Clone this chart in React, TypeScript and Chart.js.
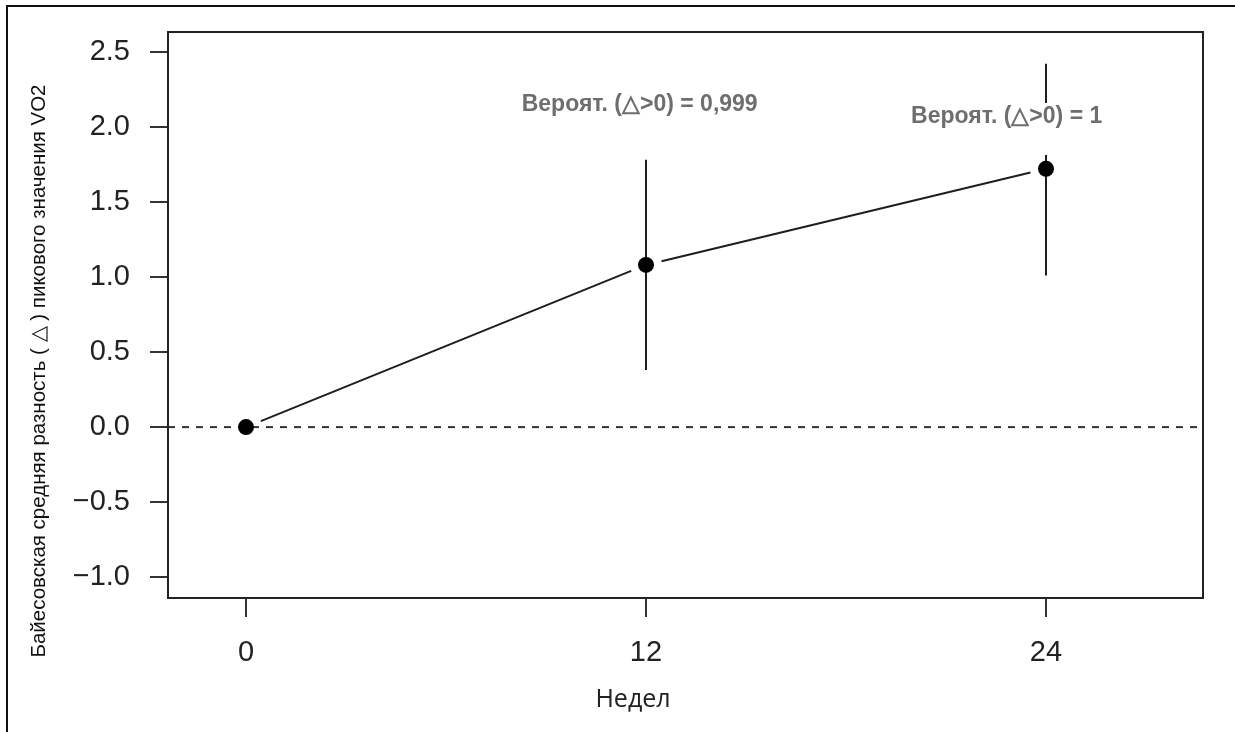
import React, { useEffect, useRef } from "react";
import { Chart, registerables } from "chart.js";

Chart.register(...registerables);

// ---- data ----
const weeks = [0, 12, 24];
const meanDiff = [0, 1.08, 1.72];
const ciLower = [0, 0.38, 1.01];
const ciUpper = [0, 1.78, 2.42];
const xTicks = [0, 12, 24];
const xTickLabels = ["0", "12", "24"];
const yTicks = [-1.0, -0.5, 0, 0.5, 1.0, 1.5, 2.0, 2.5];
const yTickLabels = ["−1.0", "−0.5", "0.0", "0.5", "1.0", "1.5", "2.0", "2.5"];
const probLabels = ["Вероят. (△>0) = 0,999", "Вероят. (△>0) = 1"];
const probLabelX = [11.81, 22.82];
const probLabelY = [2.145, 2.065];
const referenceY = 0;
const xTitle = "Недел";
const yTitle = "Байесовская средняя разность ( △ ) пикового значения VO2";

const FONT = '"Liberation Sans", Arial, sans-serif';

const decor = {
  id: "rDecor",
  beforeDraw(chart: any) {
    const { ctx, width, height } = chart;
    ctx.save();
    ctx.fillStyle = "#fff";
    ctx.fillRect(0, 0, width, height);
    ctx.strokeStyle = "#111";
    ctx.lineWidth = 2;
    ctx.beginPath();
    ctx.moveTo(7, height);
    ctx.lineTo(7, 6);
    ctx.lineTo(width, 6);
    ctx.stroke();
    ctx.restore();
  },
  beforeDatasetsDraw(chart: any) {
    const { ctx, chartArea: a } = chart;
    const x = chart.scales.x;
    const y = chart.scales.y;
    ctx.save();
    ctx.setLineDash([7, 7]);
    ctx.lineWidth = 2;
    ctx.strokeStyle = "#333";
    const y0 = y.getPixelForValue(referenceY);
    ctx.beginPath();
    ctx.moveTo(a.left, y0);
    ctx.lineTo(a.right, y0);
    ctx.stroke();
    ctx.setLineDash([]);
    ctx.strokeStyle = "#1e1e1e";
    weeks.forEach((w, i) => {
      if (ciUpper[i] === ciLower[i]) return;
      const px = x.getPixelForValue(w);
      ctx.beginPath();
      ctx.moveTo(px, y.getPixelForValue(ciLower[i]));
      ctx.lineTo(px, y.getPixelForValue(ciUpper[i]));
      ctx.stroke();
    });
    const gap = 16;
    for (let i = 0; i < weeks.length - 1; i++) {
      const x1 = x.getPixelForValue(weeks[i]);
      const y1 = y.getPixelForValue(meanDiff[i]);
      const x2 = x.getPixelForValue(weeks[i + 1]);
      const y2 = y.getPixelForValue(meanDiff[i + 1]);
      const dx = x2 - x1;
      const dy = y2 - y1;
      const len = Math.hypot(dx, dy);
      const ux = dx / len;
      const uy = dy / len;
      ctx.beginPath();
      ctx.moveTo(x1 + ux * gap, y1 + uy * gap);
      ctx.lineTo(x2 - ux * gap, y2 - uy * gap);
      ctx.stroke();
    }
    ctx.restore();
  },
  afterDatasetsDraw(chart: any) {
    const { ctx, chartArea: a } = chart;
    const x = chart.scales.x;
    const y = chart.scales.y;
    ctx.save();
    ctx.font = `bold 23px ${FONT}`;
    ctx.textAlign = "center";
    ctx.textBaseline = "middle";
    probLabels.forEach((t, i) => {
      const px = x.getPixelForValue(probLabelX[i]);
      const py = y.getPixelForValue(probLabelY[i]);
      const w = ctx.measureText(t).width;
      ctx.fillStyle = "#fff";
      ctx.fillRect(px - w / 2 - 4, py - 14, w + 8, 52);
      ctx.fillStyle = "#6e6e6e";
      ctx.fillText(t, px, py);
    });
    ctx.strokeStyle = "#222";
    ctx.lineWidth = 2;
    ctx.strokeRect(a.left, a.top, a.right - a.left, a.bottom - a.top);
    ctx.fillStyle = "#222";
    ctx.font = `25px "Open Sans", sans-serif`;
    ctx.fillText(xTitle, 633, 700);
    ctx.translate(39, 371);
    ctx.rotate(-Math.PI / 2);
    ctx.font = `20.5px ${FONT}`;
    ctx.fillStyle = "#111";
    ctx.fillText(yTitle, 0, 0);
    ctx.restore();
  },
};

export default function App() {
  const ref = useRef<HTMLCanvasElement | null>(null);
  useEffect(() => {
    if (!ref.current) return;
    const chart = new Chart(ref.current, {
      type: "scatter",
      data: {
        datasets: [
          {
            data: weeks.map((w, i) => ({ x: w, y: meanDiff[i] })),
            pointRadius: 8,
            pointBackgroundColor: "#000",
            pointBorderWidth: 0,
            showLine: false,
          },
        ],
      },
      options: {
        animation: false,
        responsive: false,
        devicePixelRatio: 1,
        events: [],
        layout: { padding: { top: 32, right: 32, bottom: 0, left: 0 } },
        plugins: { legend: { display: false }, tooltip: { enabled: false } },
        scales: {
          x: {
            type: "linear",
            min: -2.34,
            max: 28.71,
            afterBuildTicks: (s: any) => {
              s.ticks = xTicks.map((v) => ({ value: v }));
            },
            afterFit: (s: any) => {
              s.height = 134;
              s.paddingLeft = 0;
              s.paddingRight = 0;
              s.paddingTop = 0;
              s.paddingBottom = 0;
            },
            ticks: {
              font: { family: FONT, size: 29 },
              color: "#222",
              padding: 19,
              maxRotation: 0,
              autoSkip: false,
              callback: (v: any) => xTickLabels[xTicks.indexOf(Number(v))],
            },
            grid: { drawOnChartArea: false, drawTicks: true, tickLength: 19, lineWidth: 2, color: "#333" },
            border: { display: false },
          },
          y: {
            type: "linear",
            min: -1.138,
            max: 2.631,
            afterBuildTicks: (s: any) => {
              s.ticks = yTicks.map((v) => ({ value: v }));
            },
            afterFit: (s: any) => {
              s.width = 168;
              s.paddingLeft = 0;
              s.paddingRight = 0;
              s.paddingTop = 0;
              s.paddingBottom = 0;
            },
            ticks: {
              font: { family: FONT, size: 29 },
              color: "#222",
              padding: 20,
              autoSkip: false,
              callback: (v: any) => yTickLabels[yTicks.indexOf(Number(v))],
            },
            grid: { drawOnChartArea: false, drawTicks: true, tickLength: 18, lineWidth: 2, color: "#333" },
            border: { display: false },
          },
        },
      },
      plugins: [decor],
    } as any);
    return () => chart.destroy();
  }, []);
  return (
    <div style={{ position: "fixed", left: 0, top: 0, width: 1235, height: 732 }}>
      <canvas ref={ref} width={1235} height={732} style={{ width: 1235, height: 732, display: "block" }} />
    </div>
  );
}
